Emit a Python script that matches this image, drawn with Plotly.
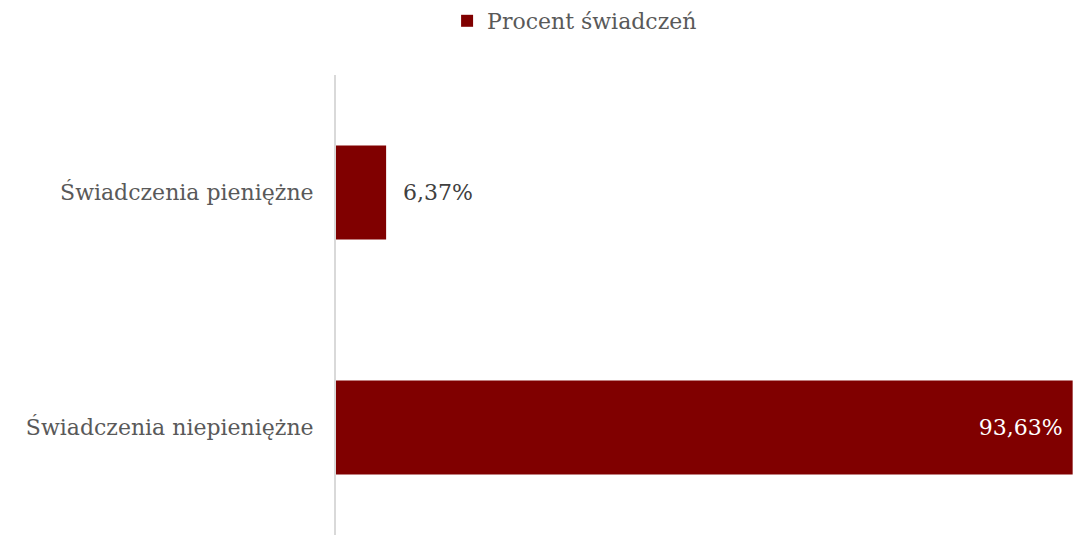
import plotly.graph_objects as go

categories = ["Świadczenia niepieniężne", "Świadczenia pieniężne"]
values = [93.63, 6.37]
series_name = "Procent świadczeń"

labels = [f"{v:.2f}%".replace(".", ",") for v in values]
labels = [labels[0] + "\u00a0", "\u00a0\u00a0" + labels[1]]

fig = go.Figure()
fig.add_trace(go.Bar(
    y=categories,
    x=values,
    orientation="h",
    name=series_name,
    marker=dict(color="#800000", line=dict(width=0)),
    width=0.4,
    text=labels,
    textposition=["inside", "outside"],
    insidetextanchor="end",
    insidetextfont=dict(color="#ffffff", size=22, family="DejaVu Serif"),
    outsidetextfont=dict(color="#404040", size=22, family="DejaVu Serif"),
    cliponaxis=False,
    showlegend=True,
))

fig.update_layout(
    width=1074,
    height=535,
    margin=dict(l=336, r=0, t=75, b=0),
    paper_bgcolor="white",
    plot_bgcolor="white",
    font=dict(family="DejaVu Serif", color="#595959", size=22),
    showlegend=True,
    legend=dict(
        orientation="h",
        xref="container", yref="container",
        x=0.535, xanchor="center",
        y=1.0, yanchor="top",
        font=dict(size=22, color="#595959"),
        itemwidth=30,
    ),
    xaxis=dict(
        range=[0, 93.8],
        showgrid=False,
        zeroline=False,
        showticklabels=False,
        showline=False,
        ticks="",
    ),
    yaxis=dict(
        range=[-0.457, 1.5],
        showgrid=False,
        zeroline=False,
        showline=True,
        linecolor="#d9d9d9",
        linewidth=2,
        ticks="outside",
        ticklen=16,
        tickcolor="rgba(0,0,0,0)",
        tickfont=dict(size=22, color="#595959"),
    ),
)

fig.write_html("out.html", config={"displayModeBar": False},
               post_script="document.body.style.margin='0';")
